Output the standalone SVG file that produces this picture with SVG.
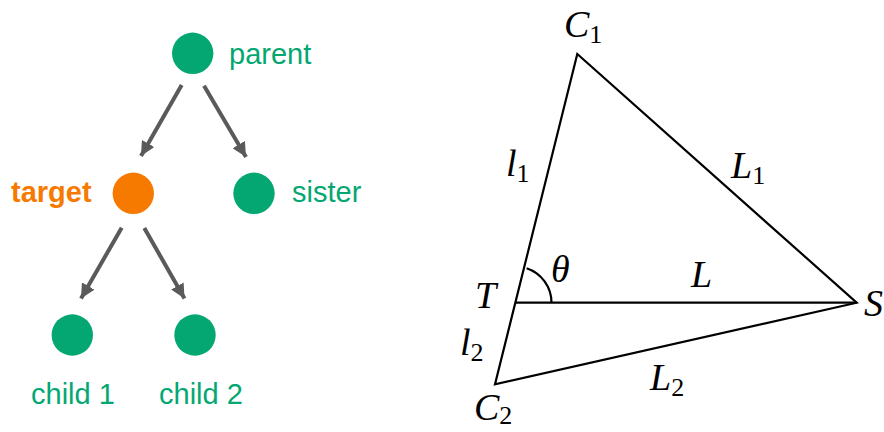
<svg xmlns="http://www.w3.org/2000/svg" width="884" height="432" viewBox="0 0 884 432">
<defs>
<style>
.g{fill:#04a772}
.o{fill:#f77a00}
.lbl{font-family:"Liberation Sans",Arial,sans-serif;font-size:29px}
.edge{stroke:#5a5a5a;stroke-width:4;fill:none}
.tri{stroke:#000;stroke-width:2.2;fill:none;stroke-linejoin:miter}
.m{font-family:"Liberation Serif","Times New Roman",serif;font-style:italic;font-size:38px;fill:#000}
.sub{font-style:normal;font-size:26px}
</style>
<marker id="ah" viewBox="0 0 10 10" refX="10" refY="5" markerWidth="3.6" markerHeight="3.6" orient="auto" markerUnits="strokeWidth">
<path d="M0,0 L10,5 L0,10 z" fill="#5a5a5a"/>
</marker>
</defs>
<rect width="884" height="432" fill="#fff"/>
<g id="connectors">
<line class="edge" x1="181.7" y1="85" x2="141" y2="156" marker-end="url(#ah)"/>
<line class="edge" x1="204" y1="85.7" x2="246" y2="157" marker-end="url(#ah)"/>
<line class="edge" x1="121.7" y1="227.7" x2="81" y2="298.5" marker-end="url(#ah)"/>
<line class="edge" x1="144.3" y1="228" x2="184.5" y2="298.5" marker-end="url(#ah)"/>
</g>
<g id="parent">
<circle class="g" cx="192.7" cy="53.3" r="20.7"/>
<text class="lbl g" x="229" y="64">parent</text>
</g>
<g id="target">
<circle class="o" cx="133.3" cy="193.3" r="20.7"/>
<text class="lbl o" x="11" y="202" font-weight="bold">target</text>
</g>
<g id="sister">
<circle class="g" cx="254" cy="193.3" r="20.7"/>
<text class="lbl g" x="292" y="202">sister</text>
</g>
<g id="child1">
<circle class="g" cx="72.3" cy="335" r="20.7"/>
<text class="lbl g" x="31" y="404">child 1</text>
</g>
<g id="child2">
<circle class="g" cx="195" cy="335" r="20.7"/>
<text class="lbl g" x="159" y="404">child 2</text>
</g>
<g id="triangle">
<polygon class="tri" points="577.3,54 856.7,302.7 495,384.3"/>
<line class="tri" x1="515.2" y1="302.7" x2="856.7" y2="302.7"/>
<path class="tri" d="M526.6,268.3 A36.3,36.3 0 0 1 551.5,302.7"/>
<text class="m" x="564" y="37">C<tspan class="sub" dy="6">1</tspan></text>
<text class="m" x="506" y="176">l<tspan class="sub" dy="6">1</tspan></text>
<text class="m" x="731" y="178">L<tspan class="sub" dy="6">1</tspan></text>
<text class="m" x="551" y="282">θ</text>
<text class="m" x="691" y="287">L</text>
<text class="m" x="475" y="308">T</text>
<text class="m" x="864" y="316">S</text>
<text class="m" x="460" y="355">l<tspan class="sub" dy="6">2</tspan></text>
<text class="m" x="650" y="390">L<tspan class="sub" dy="6">2</tspan></text>
<text class="m" x="474" y="420">C<tspan class="sub" dy="4">2</tspan></text>
</g>
</svg>
